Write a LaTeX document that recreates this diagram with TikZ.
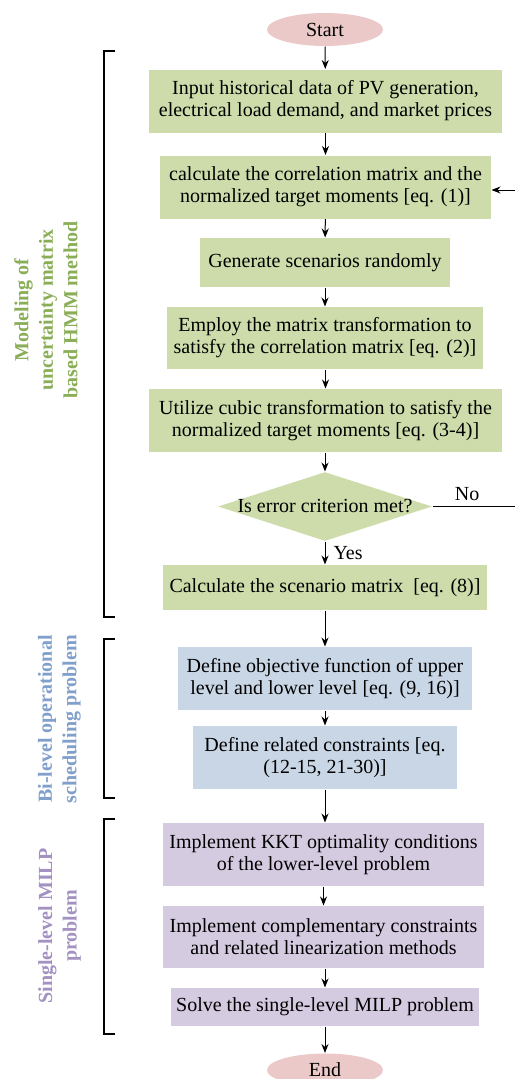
\documentclass[tikz,border=0pt]{standalone}
\usepackage{fontspec}
\setmainfont{Liberation Serif}
\usetikzlibrary{shapes.geometric,arrows.meta}
\definecolor{verdecaja}{HTML}{CDDCAA}
\definecolor{verdetexto}{HTML}{8AAE58}
\definecolor{azulcaja}{HTML}{C9D6E6}
\definecolor{azultexto}{HTML}{809FCB}
\definecolor{lilacaja}{HTML}{D4CBE1}
\definecolor{lilatexto}{HTML}{A391C2}
\definecolor{rosa}{HTML}{ECC9C9}
\begin{document}
\begin{tikzpicture}[x=1pt,y=-1pt,->,>={Stealth[length=9pt,width=7pt]}, line width=1pt,
  every node/.style={font=\fontsize{20}{22}\selectfont, align=center, inner sep=0pt},
  terminal/.style={ellipse, fill=rosa, minimum width=116pt, minimum height=33pt},
  caja/.style={rectangle, fill=#1, minimum height=63pt},
  decision/.style={diamond, fill=verdecaja, minimum width=214pt, minimum height=69pt},
  etiqueta/.style={rotate=90, text=#1, font=\fontsize{20}{24.5}\selectfont\bfseries},
  llave/.style={-, line width=2pt}]
\useasboundingbox (0,0) rectangle (515,1079);
% Nodos
\node [terminal] (inicio) at (325,29.5) {Start};
\node [caja=verdecaja, minimum width=353pt] (datos) at (325.5,101) {Input historical data of PV generation,\\electrical load demand, and market prices};
\node [caja=verdecaja, minimum width=331pt] (corr) at (325.5,187) {calculate the correlation matrix and the\\normalized target moments [eq. (1)]};
\node [caja=verdecaja, minimum width=250pt, minimum height=49pt] (gen) at (325,262.5) {Generate scenarios randomly};
\node [caja=verdecaja, minimum width=316pt, minimum height=62pt] (matriz) at (325,338) {Employ the matrix transformation to\\satisfy the correlation matrix [eq. (2)]};
\node [caja=verdecaja, minimum width=353pt] (cubica) at (325.5,420.5) {Utilize cubic transformation to satisfy the\\normalized target moments [eq. (3-4)]};
\node [decision] (error) at (325,506.5) {\makebox[0pt]{Is error criterion met?}};
\node [caja=verdecaja, minimum width=324pt, minimum height=45pt] (escen) at (325,587.5) {Calculate the scenario matrix\enspace[eq. (8)]};
\node [caja=azulcaja, minimum width=294pt] (objetivo) at (325,678.5) {Define objective function of upper\\level and lower level [eq. (9, 16)]};
\node [caja=azulcaja, minimum width=264pt] (restr) at (325,757.5) {Define related constraints [eq.\\(12-15, 21-30)]};
\node [caja=lilacaja, minimum width=321pt] (kkt) at (323.5,854.5) {Implement KKT optimality conditions\\of the lower-level problem};
\node [caja=lilacaja, minimum width=321pt, minimum height=62pt] (compl) at (323.5,937) {Implement complementary constraints\\and related linearization methods};
\node [caja=lilacaja, minimum width=308pt, minimum height=38pt] (milp) at (325,1007) {Solve the single-level MILP problem};
\node [terminal] (fin) at (325,1070) {End};
\coordinate (noR) at (515,506.5);
\coordinate (vueltaR) at (515,190);
% Etiquetas
\node [etiqueta=verdetexto] (et1) at (46,310) {Modeling of\\uncertainty matrix\\based HMM method};
\node [etiqueta=azultexto] (et2) at (59.5,719) {Bi-level operational\\scheduling problem};
\node [etiqueta=lilatexto] (et3) at (59.5,926) {Single-level MILP\\problem};
% Llaves
\draw [llave] (115,51) -- (104,51) -- (104,617) -- (115,617);
\draw [llave] (115,639) -- (104,639) -- (104,798) -- (115,798);
\draw [llave] (115,819) -- (104,819) -- (104,1034) -- (115,1034);
% Flechas
\draw (inicio) -- (datos);
\draw (datos.south -| corr) -- (corr);
\draw (corr) -- (gen);
\draw (gen) -- (matriz);
\draw (matriz.south -| cubica) -- (cubica);
\draw (cubica.south -| error) -- (error);
\draw (error) -- node [right, xshift=8pt] {Yes} (escen);
\draw (escen) -- (objetivo);
\draw (objetivo) -- (restr);
\draw (restr) -- (restr |- kkt.north);
\draw (kkt) -- (compl);
\draw (compl.south -| milp) -- (milp);
\draw (milp) -- (fin);
\draw [-] (error.east) -- node [above, pos=0.42, yshift=5pt] {No} (noR);
\draw (vueltaR) -- (vueltaR -| corr.east);
\end{tikzpicture}
\end{document}
